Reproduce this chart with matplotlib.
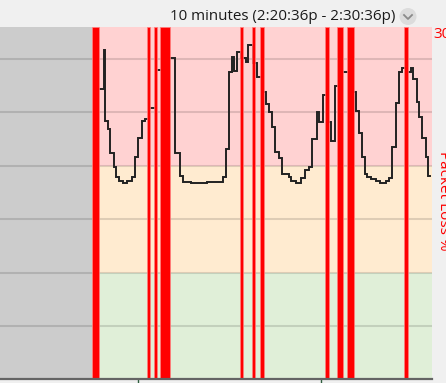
import matplotlib
matplotlib.use("Agg")
import matplotlib.pyplot as plt
from matplotlib.patches import Ellipse
from matplotlib.lines import Line2D
import numpy as np

# ---- data (time in seconds since 2:20:36p, latency in ms) ----
title_text = "10 minutes (2:20:36p - 2:30:36p)"
view_start_s = 459.1
view_end_s = 600.0
data_start_s = 489.1
tick_times_s = [504, 564]          # 2:29:00p, 2:30:00p

sample_time_s = [491.5, 493.1, 493.4, 494.2, 495.1, 496.2, 497.0, 497.8, 499.4, 500.7,
                 502.1, 503.2, 504.3, 505.4, 506.5, 507.6, 510.0, 513.2, 516.1, 517.8,
                 518.9, 521.6, 526.5, 531.9, 532.7, 533.8, 534.8, 535.4, 536.5, 537.8,
                 539.5, 540.1, 541.8, 543.1, 544.7, 545.9, 546.8, 547.8, 548.9, 550.3,
                 551.1, 553.3, 554.1, 555.7, 557.3, 558.6, 559.8, 560.8, 562.6, 563.3,
                 564.4, 565.7, 567.1, 568.4, 570.0, 573.5, 575.2, 576.3, 577.4, 578.1,
                 579.0, 580.1, 581.7, 583.1, 585.0, 586.0, 587.1, 588.2, 589.3, 590.4,
                 591.6, 593.1, 594.0, 595.1, 595.8, 596.9, 598.0, 598.9, 599.6]
latency_ms = [271.6, 308.4, 242.2, 234.1, 212.2, 198.5, 189.1, 185.6, 184.0, 185.6,
              189.1, 207.8, 226.2, 242.2, 243.8, 254.4, 289.7, 300.7, 212.2, 190.6,
              185.0, 183.5, 185.0, 189.1, 215.3, 288.1, 302.2, 289.1, 306.9, 300.7,
              297.5, 313.1, 296.0, 283.1, 269.3, 257.8, 250.6, 236.5, 213.1, 206.9,
              192.2, 189.7, 185.6, 184.0, 188.2, 195.9, 199.0, 224.7, 250.6, 241.2,
              266.3, 241.2, 223.4, 274.7, 288.1, 269.3, 251.5, 230.3, 208.4, 192.2,
              189.7, 187.2, 185.6, 184.0, 185.6, 188.2, 217.8, 259.0, 288.1, 291.3,
              288.1, 291.3, 281.0, 260.0, 245.3, 225.7, 207.8, 190.3, 190.3]

loss_start_s = [489.2, 507.0, 509.4, 511.4, 537.35, 541.2, 544.1, 565.2, 569.1, 572.5, 591.05]
loss_dur_s = [2.3, 1.1, 1.1, 3.1, 1.1, 1.2, 1.2, 1.2, 2.1, 2.15, 1.2]

band_edges_ms = [0, 100, 200, 330]
band_colors = ["#e0efd8", "#ffebd0", "#ffd2d2"]
grid_ms = [50, 100, 150, 200, 250, 300]
loss_axis_max = "30"
loss_axis_label = "Packet Loss %"

# ---- figure ----
W, H = 446, 383
fig = plt.figure(figsize=(W / 100, H / 100), dpi=100, facecolor="#f0f0f0")
ax = fig.add_axes([0, (H - 379.4) / H, 431.7 / W, (379.4 - 27) / H])
ax.set_xlim(view_start_s, view_end_s)
ax.set_ylim(band_edges_ms[0], band_edges_ms[-1])

for lo, hi, c in zip(band_edges_ms[:-1], band_edges_ms[1:], band_colors):
    ax.axhspan(lo, hi, color=c, lw=0, zorder=0)
ax.axvspan(view_start_s, data_start_s, color="#cccccc", lw=0, zorder=0.5)

for g in grid_ms:
    ax.axhline(g, color="black", alpha=0.13, lw=1.5, zorder=1)

ax.plot(sample_time_s, latency_ms, drawstyle="steps-post", color="#222222",
        lw=1.4, zorder=2, solid_joinstyle="miter")

for s, d in zip(loss_start_s, loss_dur_s):
    ax.axvspan(s, s + d, facecolor="#ff0000", edgecolor="#ff8080", lw=0.5, zorder=3)

for side in ["top", "left", "right"]:
    ax.spines[side].set_visible(False)
ax.spines["bottom"].set_color("#646464")
ax.spines["bottom"].set_linewidth(1.6)
ax.spines["bottom"].set_zorder(5)
ax.set_yticks([])
ax.set_xticks(tick_times_s)
ax.set_xticklabels([])
ax.tick_params(axis="x", direction="out", length=4, width=1, color="#2f5f3f")

# right strip (text runs off the right edge, as in the original screenshot)
fig.text(433 / W, 1 - 34 / H, loss_axis_max, color="#ff0000", fontsize=11,
         family="Open Sans", ha="left", va="center")
fig.text(436 / W, 1 - 151 / H, loss_axis_label, color="#ff0000", fontsize=11,
         family="Open Sans", rotation=270, ha="left", va="top")

# header
fig.text(395 / W, 1 - 16 / H, title_text, color="#1a1a1a", fontsize=10.9,
         family="Open Sans", ha="right", va="center")
fig.patches.append(Ellipse((408 / W, 1 - 16.5 / H), 17 / W, 17 / H,
                           transform=fig.transFigure, facecolor="#dcdcdc", edgecolor="none"))
fig.lines.append(Line2D([404 / W, 408 / W, 412 / W],
                        [1 - 15 / H, 1 - 19 / H, 1 - 15 / H],
                        transform=fig.transFigure, color="#8a8a8a", lw=1.3))

fig.savefig("out.png", dpi=100, facecolor=fig.get_facecolor())
